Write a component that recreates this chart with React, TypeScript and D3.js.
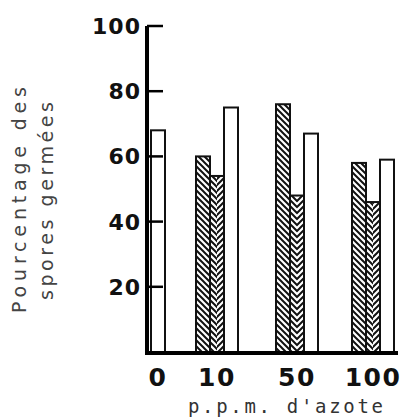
import React from "react";
import * as d3 from "d3";

const categories = ["0", "10", "50", "100"];
const seriesKeys = ["hachure", "chevron", "blanc"];
const hachure: (number | null)[] = [null, 60, 76, 58];
const chevron: (number | null)[] = [null, 54, 48, 46];
const blanc: (number | null)[] = [68, 75, 67, 59];
const yTicks = [20, 40, 60, 80, 100];

const W = 413;
const H = 418;

export default function App() {
  const y = d3.scaleLinear().domain([0, 100]).range([352, 26]);
  const xc = d3.scaleOrdinal<string, number>().domain(categories).range([158, 217, 297, 373]);
  const inner = d3.scaleBand<string>().domain(seriesKeys).range([-21, 21]).padding(0);
  const bw = inner.bandwidth();
  const values: Record<string, (number | null)[]> = { hachure, chevron, blanc };

  const bars: React.ReactNode[] = [];
  categories.forEach((c, i) => {
    const present = seriesKeys.filter((k) => values[k][i] != null);
    present.forEach((k) => {
      const v = values[k][i] as number;
      const x0 = present.length === 1 ? xc(c) - bw / 2 : xc(c) + (inner(k) as number);
      const top = y(v);
      const h = y(0) - top;
      if (k === "chevron") {
        bars.push(
          <g key={k + i}>
            <rect x={x0} y={top} width={bw / 2} height={h} fill="url(#diagA)" />
            <rect x={x0 + bw / 2} y={top} width={bw / 2} height={h} fill="url(#diagB)" />
            <rect x={x0} y={top} width={bw} height={h} fill="none" stroke="#111" strokeWidth={2} />
          </g>
        );
      } else {
        bars.push(
          <rect
            key={k + i}
            x={x0}
            y={top}
            width={bw}
            height={h}
            fill={k === "hachure" ? "url(#diagA)" : "#fff"}
            stroke="#111"
            strokeWidth={2}
          />
        );
      }
    });
  });

  return (
    <svg width={W} height={H} style={{ position: "absolute", left: 0, top: 0, background: "#fff" }}>
      <defs>
        <pattern id="diagA" patternUnits="userSpaceOnUse" width={6} height={6}>
          <rect width={6} height={6} fill="#fff" />
          <path d="M-1,-1 L7,7 M-1,5 L1,7 M5,-1 L7,1" stroke="#111" strokeWidth={2} />
        </pattern>
        <pattern id="diagB" patternUnits="userSpaceOnUse" width={6} height={6}>
          <rect width={6} height={6} fill="#fff" />
          <path d="M-1,7 L7,-1 M-1,1 L1,-1 M5,7 L7,5" stroke="#111" strokeWidth={2} />
        </pattern>
      </defs>

      {bars}

      {/* y axis */}
      <line x1={147} x2={147} y1={y(100)} y2={y(0) + 2} stroke="#000" strokeWidth={4} />
      {yTicks.map((t) => (
        <g key={t}>
          <line x1={147} x2={163} y1={y(t)} y2={y(t)} stroke="#000" strokeWidth={2.5} />
          <text
            x={141}
            y={y(t) + 8}
            textAnchor="end"
            fontFamily="DejaVu Sans"
            fontWeight="bold"
            fontSize={22}
            fill="#111"
            letterSpacing={1}
          >
            {t}
          </text>
        </g>
      ))}

      {/* x axis */}
      <line x1={145} x2={398} y1={y(0) + 1} y2={y(0) + 1} stroke="#000" strokeWidth={4} />
      {categories.map((c) => (
        <text
          key={c}
          x={xc(c)}
          y={386}
          textAnchor="middle"
          fontFamily="DejaVu Sans"
          fontWeight="bold"
          fontSize={25}
          fill="#111"
          letterSpacing={1.5}
        >
          {c}
        </text>
      ))}

      <text
        x={188}
        y={413}
        fontFamily="DejaVu Sans Mono"
        fontSize={19}
        fill="#333"
        textLength={195}
        lengthAdjust="spacing"
      >
        p.p.m. d'azote
      </text>

      <text
        transform="translate(26,200) rotate(-90)"
        textAnchor="middle"
        fontFamily="DejaVu Sans"
        fontSize={19}
        fill="#444"
        textLength={226}
        lengthAdjust="spacing"
      >
        Pourcentage des
      </text>
      <text
        transform="translate(53,201) rotate(-90)"
        textAnchor="middle"
        fontFamily="DejaVu Sans"
        fontSize={19}
        fill="#444"
        textLength={198}
        lengthAdjust="spacing"
      >
        spores germées
      </text>
    </svg>
  );
}
